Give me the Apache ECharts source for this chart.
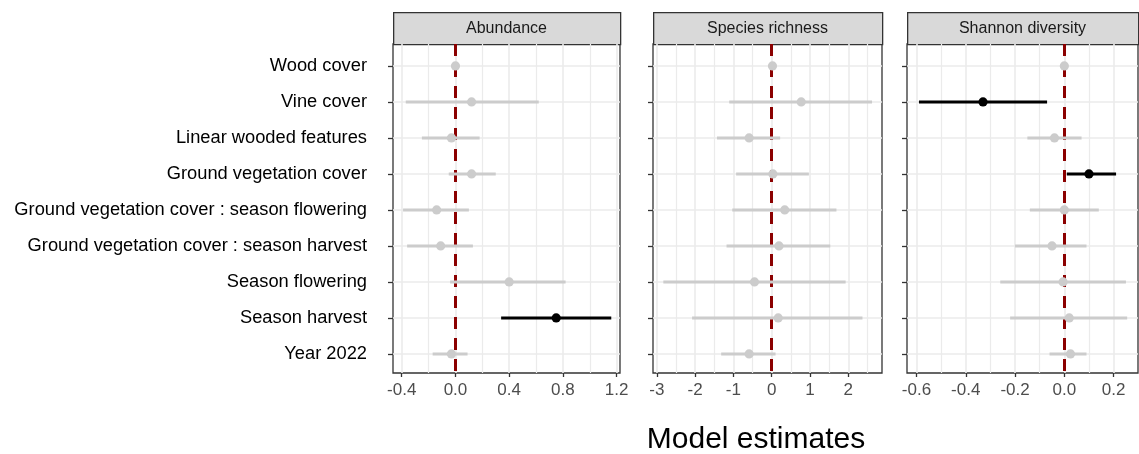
<!DOCTYPE html>
<html>
<head>
<meta charset="utf-8">
<script src="https://cdn.jsdelivr.net/npm/echarts/dist/echarts.min.js"></script>
<style>
  html, body { margin: 0; padding: 0; background: #fff; }
  #chart { width: 1139px; height: 454px; }
</style>
</head>
<body>
<div id="chart"></div>
<script>
// terms of the model, top to bottom
const categories = [
  'Wood cover',
  'Vine cover',
  'Linear wooded features',
  'Ground vegetation cover',
  'Ground vegetation cover : season flowering',
  'Ground vegetation cover : season harvest',
  'Season flowering',
  'Season harvest',
  'Year 2022'
];

const panelTitles = ['Abundance', 'Species richness', 'Shannon diversity'];

// estimates and 95% intervals
const abundanceEst  = [0.0, 0.12, -0.03, 0.12, -0.14, -0.11, 0.40, 0.75, -0.03];
const abundanceLow  = [-0.01, -0.37, -0.25, -0.05, -0.39, -0.36, -0.04, 0.34, -0.17];
const abundanceHigh = [0.01, 0.62, 0.18, 0.30, 0.10, 0.13, 0.82, 1.16, 0.09];

const richnessEst  = [0.02, 0.77, -0.59, 0.03, 0.34, 0.19, -0.45, 0.17, -0.59];
const richnessLow  = [-0.04, -1.11, -1.43, -0.93, -1.03, -1.18, -2.83, -2.08, -1.32];
const richnessHigh = [0.08, 2.62, 0.22, 0.97, 1.69, 1.53, 1.93, 2.37, 0.10];

const shannonEst  = [0.0, -0.33, -0.04, 0.10, 0.0, -0.05, -0.005, 0.02, 0.025];
const shannonLow  = [-0.004, -0.59, -0.15, 0.01, -0.14, -0.20, -0.26, -0.22, -0.06];
const shannonHigh = [0.004, -0.07, 0.07, 0.21, 0.14, 0.09, 0.25, 0.255, 0.09];

// axis ticks
const abundanceTicks = [-0.4, 0.0, 0.4, 0.8, 1.2];
const abundanceMinor = [-0.2, 0.2, 0.6, 1.0];
const richnessTicks = [-3, -2, -1, 0, 1, 2];
const richnessMinor = [-2.5, -1.5, -0.5, 0.5, 1.5, 2.5];
const shannonTicks = [-0.6, -0.4, -0.2, 0.0, 0.2];
const shannonMinor = [-0.5, -0.3, -0.1, 0.1];

const panels = [
  { est: abundanceEst, low: abundanceLow, high: abundanceHigh, ticks: abundanceTicks, minor: abundanceMinor,
    min: -0.465, max: 1.225, digits: 1, left: 393, width: 227 },
  { est: richnessEst, low: richnessLow, high: richnessHigh, ticks: richnessTicks, minor: richnessMinor,
    min: -3.10, max: 2.88, digits: 0, left: 653, width: 229 },
  { est: shannonEst, low: shannonLow, high: shannonHigh, ticks: shannonTicks, minor: shannonMinor,
    min: -0.6385, max: 0.299, digits: 1, left: 907, width: 231 }
];

const rows = categories.map((c, i) => i + 1);
const gridTop = 44;
const gridHeight = 329;
const gridLineColor = '#ebebeb';
const labelFont = "'Liberation Sans', Arial, sans-serif";

const chart = echarts.init(document.getElementById('chart'), null, { renderer: 'canvas' });

const grid = [];
const xAxis = [];
const yAxis = [];
const series = [];
const graphic = [];

panels.forEach((p, k) => {
  grid.push({
    left: p.left, top: gridTop, width: p.width, height: gridHeight,
    show: true, borderColor: '#333333', borderWidth: 1.3, backgroundColor: '#fff'
  });

  // main x axis: ticks, labels, major grid lines
  xAxis.push({
    type: 'value', gridIndex: k, min: p.min, max: p.max,
    axisLine: { show: false, onZero: false },
    axisTick: { show: true, customValues: p.ticks, length: 4, lineStyle: { color: '#333', width: 1.3 } },
    axisLabel: {
      customValues: p.ticks, margin: 9, color: '#4d4d4d', fontSize: 17, fontFamily: labelFont,
      formatter: v => Number(v).toFixed(p.digits)
    },
    splitLine: { show: true, lineStyle: { color: gridLineColor, width: 1.6 } }
  });
  // second x axis only for the minor grid lines
  xAxis.push({
    type: 'value', gridIndex: k, min: p.min, max: p.max, position: 'bottom',
    axisLine: { show: false, onZero: false },
    axisTick: { show: false, customValues: p.minor },
    axisLabel: { show: false, customValues: p.minor },
    splitLine: { show: true, lineStyle: { color: gridLineColor, width: 1.2 } }
  });

  yAxis.push({
    type: 'value', gridIndex: k, min: 0.39, max: 9.53, inverse: true, position: 'left',
    axisLine: { show: false, onZero: false },
    axisTick: { show: true, customValues: rows, length: 5, lineStyle: { color: '#333', width: 1.3 } },
    axisLabel: {
      show: k === 0, customValues: rows, margin: 26, color: '#000', fontSize: 18.3, fontFamily: labelFont,
      formatter: v => categories[Math.round(v) - 1] || ''
    },
    splitLine: { show: true, lineStyle: { color: gridLineColor, width: 1.6 } }
  });

  const data = p.est.map((e, i) => [p.low[i], p.high[i], e, rows[i]]);

  // zero reference line
  series.push({
    type: 'scatter', xAxisIndex: k * 2, yAxisIndex: k, data: [],
    markLine: {
      silent: true, symbol: 'none', label: { show: false },
      lineStyle: { color: '#8b0000', width: 3, type: [12, 9] },
      data: [{ xAxis: 0 }]
    }
  });

  // interval + point, black when the interval excludes zero; own layer so it sits over the zero line
  series.push({
    type: 'custom', xAxisIndex: k * 2, yAxisIndex: k, zlevel: 1,
    encode: { x: [0, 1, 2], y: 3 },
    data: data,
    renderItem: (params, api) => {
      const lo = api.value(0);
      const hi = api.value(1);
      const a = api.coord([lo, api.value(3)]);
      const b = api.coord([hi, api.value(3)]);
      const c = api.coord([api.value(2), api.value(3)]);
      const color = (lo > 0 || hi < 0) ? '#000000' : '#cccccc';
      return {
        type: 'group',
        children: [
          { type: 'line', shape: { x1: a[0], y1: a[1], x2: b[0], y2: b[1] }, style: { stroke: color, lineWidth: 3 } },
          { type: 'circle', shape: { cx: c[0], cy: c[1], r: 4.6 }, style: { fill: color } }
        ]
      };
    }
  });

  // facet strip
  graphic.push({
    type: 'rect', left: p.left, top: 12,
    shape: { width: p.width, height: gridTop - 12 },
    style: { fill: '#d9d9d9', stroke: '#333333', lineWidth: 1.3 }
  });
  graphic.push({
    type: 'text', x: p.left + p.width / 2, y: 29,
    style: {
      text: panelTitles[k], fill: '#1a1a1a', font: "16px 'Liberation Sans', Arial, sans-serif",
      textAlign: 'center', textVerticalAlign: 'middle'
    }
  });
});

graphic.push({
  type: 'text', x: 756, y: 440,
  style: {
    text: 'Model estimates', fill: '#000', font: "30px 'Liberation Sans', Arial, sans-serif",
    textAlign: 'center', textVerticalAlign: 'middle'
  }
});

chart.setOption({
  animation: false,
  grid: grid,
  xAxis: xAxis,
  yAxis: yAxis,
  series: series,
  graphic: graphic
});
</script>
</body>
</html>
